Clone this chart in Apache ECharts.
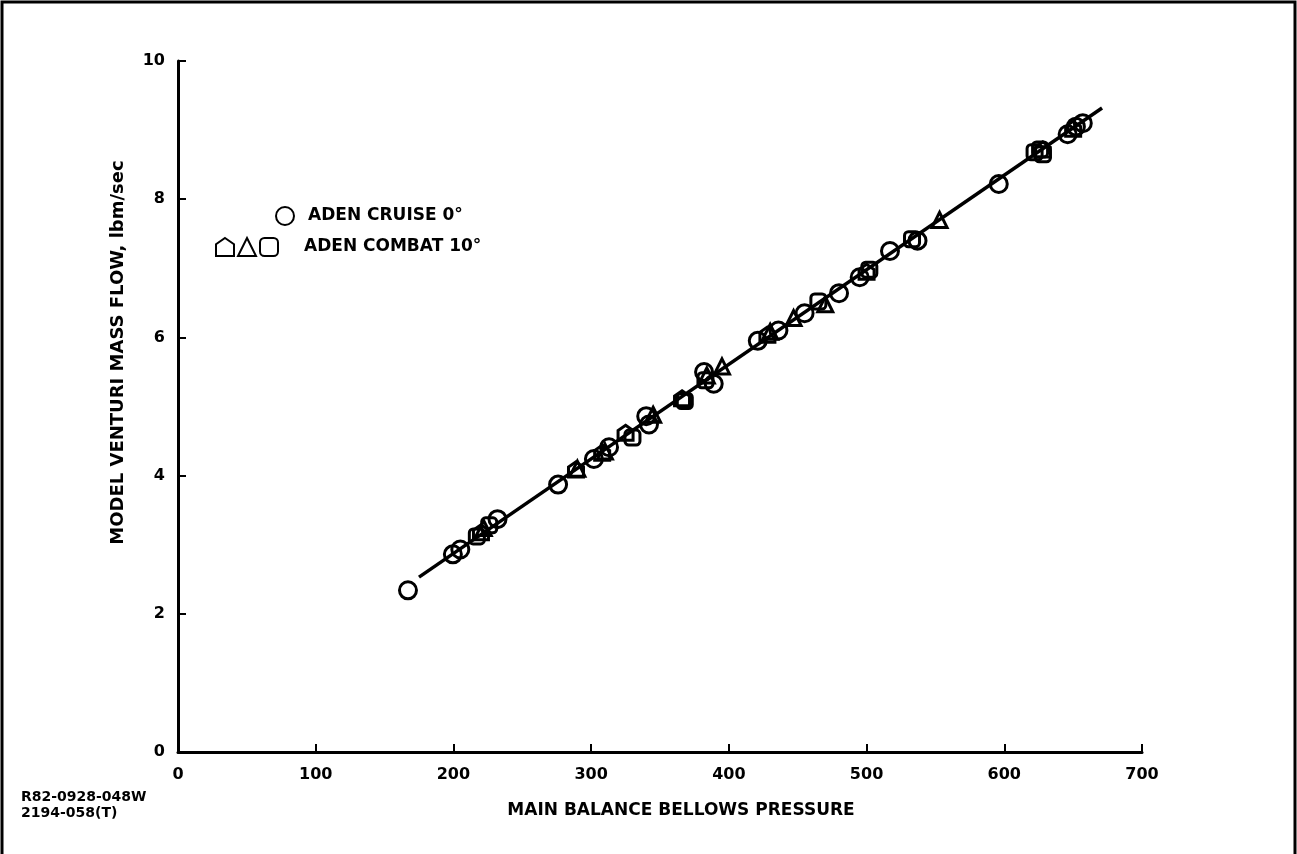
<!DOCTYPE html>
<html>
<head>
<meta charset="utf-8">
<script src="https://cdn.jsdelivr.net/npm/echarts@6/dist/echarts.min.js"></script>
<style>
html,body{margin:0;padding:0;background:#fff;}
#chart{width:1297px;height:854px;}
</style>
</head>
<body>
<div id="chart"></div>
<script>
// ---- data ----
const cruiseX = [167, 199.6, 205, 232, 276, 302, 313, 340, 342, 382, 389, 421, 436, 455, 480, 495, 517, 537, 596, 646, 652, 657];
const cruiseY = [2.34, 2.86, 2.93, 3.37, 3.87, 4.24, 4.41, 4.86, 4.74, 5.50, 5.33, 5.95, 6.10, 6.35, 6.64, 6.87, 7.25, 7.40, 8.22, 8.94, 9.05, 9.10];

const combatHouseX = [220, 289, 308, 325, 366, 428, 500, 628, 650];
const combatHouseY = [3.18, 4.09, 4.33, 4.62, 5.12, 6.04, 6.95, 8.72, 9.02];

const combatTriX = [222, 290, 310, 345, 384, 395, 430, 447, 470, 553];
const combatTriY = [3.24, 4.10, 4.35, 4.88, 5.45, 5.58, 6.08, 6.28, 6.48, 7.70];

const combatSqX = [217, 226, 330, 368, 383, 465, 502, 533, 622, 626, 628];
const combatSqY = [3.12, 3.28, 4.55, 5.08, 5.38, 6.52, 6.98, 7.42, 8.68, 8.72, 8.65];

const fitX = [175, 671];
const fitY = [2.53, 9.32];

const xTicks = [0, 100, 200, 300, 400, 500, 600, 700];
const yTicks = [0, 2, 4, 6, 8, 10];

const cruiseName = 'ADEN CRUISE 0°';
const combatName = 'ADEN COMBAT 10°';
const combatHouseName = 'ADEN COMBAT 10° (pentagon)';
const combatTriName = 'ADEN COMBAT 10° (triangle)';
const xName = 'MAIN BALANCE BELLOWS PRESSURE';
const yName = 'MODEL VENTURI MASS FLOW, lbm/sec';
const figId = 'R82-0928-048W\n2194-058(T)';

const zip = (a, b) => a.map((v, i) => [v, b[i]]);
const FONT = 'DejaVu Sans';
const housePath = 'path://M0,-10 L10,-3 L10,10 L-10,10 L-10,-3 Z';
const hollow = {color: 'rgba(0,0,0,0)', borderColor: '#000', borderWidth: 3, opacity: 1};
const txt = (size) => ({fontFamily: FONT, fontSize: size, fontWeight: 'bold', color: '#000'});

const chart = echarts.init(document.getElementById('chart'), null, {renderer: 'canvas'});
chart.setOption({
  backgroundColor: '#fff',
  animation: false,
  title: {
    text: figId, left: 16, top: 784,
    textStyle: Object.assign(txt(14), {lineHeight: 16})
  },
  graphic: [{
    type: 'rect', shape: {x: 2, y: 2, width: 1293, height: 900},
    style: {fill: 'none', stroke: '#000', lineWidth: 3}, silent: true
  }],
  legend: [{
    data: [cruiseName], left: 270, top: 201, orient: 'horizontal',
    itemWidth: 18, itemHeight: 18,
    textStyle: Object.assign(txt(17), {padding: [0, 0, 0, 9]})
  }, {
    data: [combatHouseName, combatTriName, combatName], left: 210, top: 232, orient: 'horizontal',
    itemWidth: 18, itemHeight: 18, itemGap: 2,
    formatter: n => n === combatName ? '{a|' + n + '}' : '',
    textStyle: Object.assign(txt(17), {rich: {a: Object.assign(txt(17), {padding: [0, 0, 0, 21]})}})
  }],
  grid: {left: 178, right: 155, top: 61, bottom: 102},
  xAxis: {
    type: 'value', min: 0, max: 700, interval: 100,
    name: xName, nameLocation: 'middle', nameGap: 50,
    nameTextStyle: Object.assign(txt(17), {padding: [0, 0, 0, 42]}),
    axisLine: {show: true, lineStyle: {color: '#000', width: 3}},
    axisTick: {show: true, inside: true, length: 8, lineStyle: {color: '#000', width: 2}},
    axisLabel: Object.assign(txt(16), {margin: 15, formatter: v => xTicks.includes(v) ? String(v) : ''}),
    splitLine: {show: false}
  },
  yAxis: {
    type: 'value', min: 0, max: 10, interval: 2,
    name: yName, nameLocation: 'middle', nameGap: 51, nameRotate: 90,
    nameTextStyle: Object.assign(txt(18), {padding: [0, 0, 0, 108]}),
    axisLine: {show: true, lineStyle: {color: '#000', width: 3}},
    axisTick: {show: true, inside: true, length: 8, lineStyle: {color: '#000', width: 2}},
    axisLabel: Object.assign(txt(16), {margin: 13, formatter: v => yTicks.includes(v) ? String(v) : ''}),
    splitLine: {show: false}
  },
  series: [{
    name: 'fit', type: 'line', data: zip(fitX, fitY), symbol: 'none',
    lineStyle: {color: '#000', width: 3.5}, silent: true, z: 1
  }, {
    name: cruiseName, type: 'scatter', data: zip(cruiseX, cruiseY),
    symbol: 'circle', symbolSize: 17, itemStyle: hollow, z: 3
  }, {
    name: combatHouseName, type: 'scatter', data: zip(combatHouseX, combatHouseY),
    symbol: housePath, symbolSize: 15, itemStyle: hollow, z: 3
  }, {
    name: combatTriName, type: 'scatter', data: zip(combatTriX, combatTriY),
    symbol: 'triangle', symbolSize: 15, itemStyle: hollow, z: 3
  }, {
    name: combatName, type: 'scatter', data: zip(combatSqX, combatSqY),
    symbol: 'roundRect', symbolSize: 15, itemStyle: hollow, z: 3
  }]
});
</script>
</body>
</html>
